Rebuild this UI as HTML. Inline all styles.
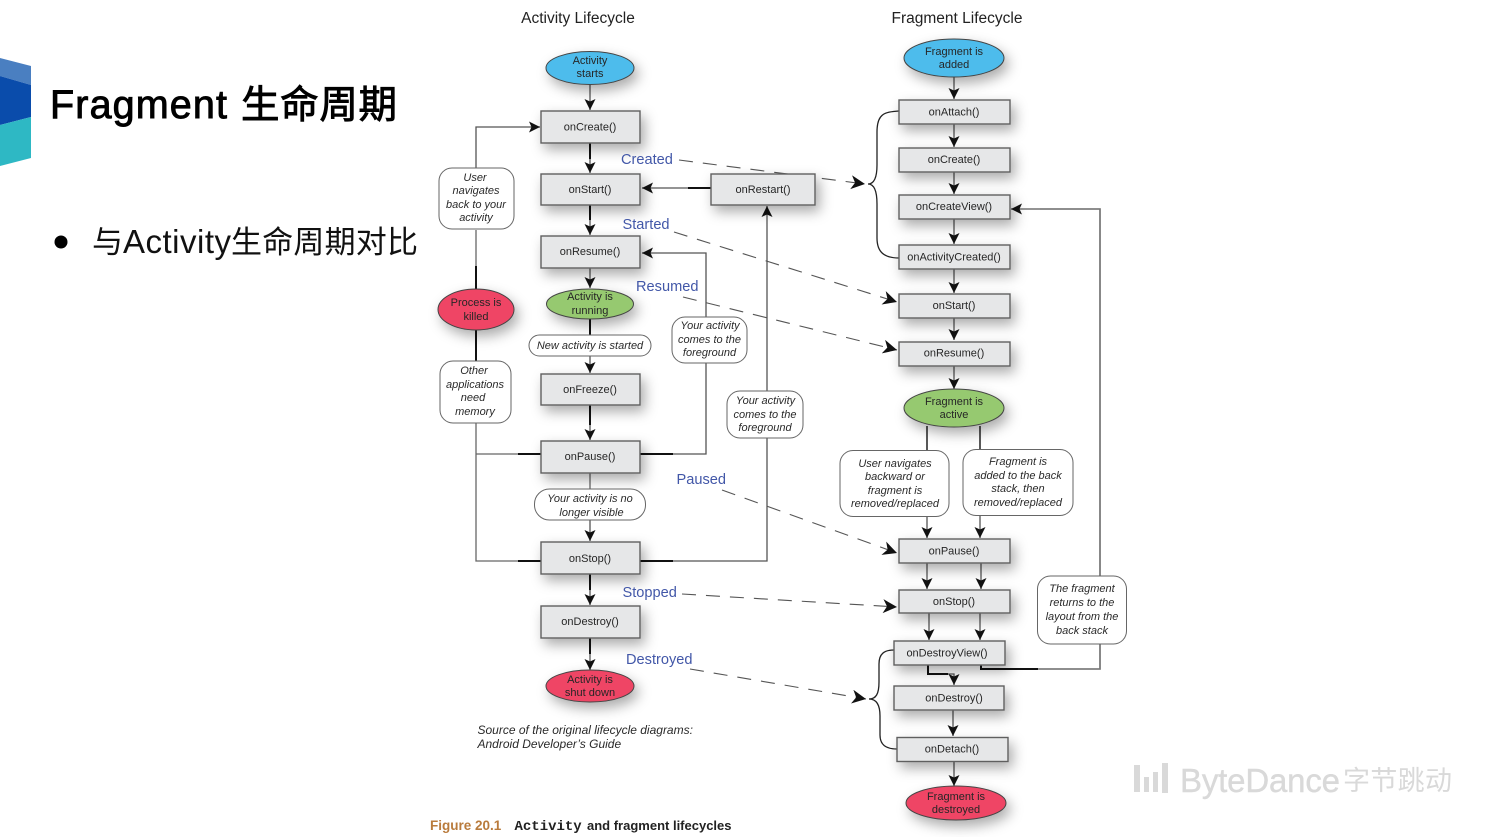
<!DOCTYPE html>
<html><head><meta charset="utf-8">
<style>
html,body{margin:0;padding:0;background:#fff;width:1495px;height:837px;overflow:hidden}
svg{display:block;position:absolute;left:0;top:0}
text{font-family:"Liberation Sans","Noto Sans CJK SC",sans-serif}
.t{font-size:11px;fill:#262626;text-anchor:middle}
.i{font-size:11px;font-style:italic;fill:#2a2a2a;text-anchor:middle}
.b{font-size:14.6px;fill:#4257a8}
.h{font-size:15.5px;fill:#222;text-anchor:middle}
.box{fill:#e6e7e8;stroke:#5f5f5f;stroke-width:1.4;filter:url(#s)}
.bub{fill:#fff;stroke:#666;stroke-width:1}
.l{fill:none;stroke:#666;stroke-width:1.3}
.k{fill:none;stroke:#111;stroke-width:2}
.n{fill:none;stroke:#222;stroke-width:1.3}
.a{fill:none;stroke:#555;stroke-width:1.3;marker-end:url(#m)}
.d{fill:none;stroke:#555;stroke-width:1.1;stroke-dasharray:14 10;marker-end:url(#m2)}
.e{stroke:#444;stroke-width:1;filter:url(#s)}
</style></head><body>
<svg width="1495" height="837" viewBox="0 0 1495 837" xmlns="http://www.w3.org/2000/svg">
<defs>
<filter id="s" x="-40%" y="-70%" width="190%" height="270%"><feDropShadow dx="4" dy="6" stdDeviation="6.500" flood-color="#000" flood-opacity=".33"/></filter>
<marker id="m" markerUnits="userSpaceOnUse" markerWidth="14" markerHeight="14" refX="11" refY="5.500" orient="auto"><path d="M0 0L11 5.500L0 11L2.500 5.500Z" fill="#111"/></marker>
<marker id="m2" markerUnits="userSpaceOnUse" markerWidth="18" markerHeight="18" refX="14" refY="7" orient="auto"><path d="M0 0L14 7L0 14L4 7Z" fill="#111"/></marker>
</defs>

<polygon points="0,58 31,66 31,85 0,76" fill="#4a7fc1"/>
<polygon points="0,76 31,85 31,117 0,125" fill="#0a4cab"/>
<polygon points="0,125 31,117 31,158 0,166" fill="#2eb8c4"/>

<text x="50" y="118" font-size="39.500" fill="#000" stroke="#000" stroke-width=".9" textLength="177" lengthAdjust="spacing">Fragment</text>
<text x="241" y="118" font-size="38.500" fill="#000" stroke="#000" stroke-width=".9" textLength="156">生命周期</text>
<circle cx="61" cy="242" r="6.500" fill="#000"/>
<text x="92" y="253" font-size="31" fill="#111">与</text>
<text x="123" y="253" font-size="33" fill="#111" textLength="108">Activity</text>
<text x="231" y="253" font-size="31" fill="#111" textLength="187">生命周期对比</text>

<!-- watermark -->
<g fill="#d9d9d9">
<rect x="1134" y="765" width="6" height="27"/><rect x="1144" y="777" width="5" height="15"/><rect x="1153" y="772" width="5" height="20"/><rect x="1162" y="763" width="6" height="30"/>
<text x="1180" y="792" font-size="33" textLength="160" stroke="#d9d9d9" stroke-width=".4">ByteDance</text>
<text x="1343" y="790" font-size="27" textLength="109">字节跳动</text>
</g>

<text class="h" x="578" y="23">Activity Lifecycle</text>
<text class="h" x="957" y="23">Fragment Lifecycle</text>

<!-- dashed -->
<path class="d" d="M679 160L865 184"/>
<path class="d" d="M674 232L897 302"/>
<path class="d" d="M683 297L897 350"/>
<path class="d" d="M722 490L897 553"/>
<path class="d" d="M682 594L897 607"/>
<path class="d" d="M690 669L866 699"/>

<!-- left connectors -->
<path class="a" d="M590 84V110"/>
<path class="a" d="M590 143V173"/><path class="k" d="M590 143V159"/>
<path class="a" d="M590 205V235"/><path class="k" d="M590 205V220"/>
<path class="a" d="M590 268V288"/>
<path class="k" d="M590 318V335"/>
<path class="a" d="M590 356V373"/>
<path class="a" d="M590 405V440"/><path class="k" d="M590 405V425"/>
<path class="l" d="M590 473V489"/>
<path class="a" d="M590 520V541"/>
<path class="a" d="M590 574V605"/><path class="k" d="M590 574V590"/>
<path class="a" d="M590 638V670"/><path class="k" d="M590 638V654"/>
<path class="a" d="M476 168V127H540"/>
<path class="l" d="M476 230V290"/><path class="k" d="M476 266V290"/>
<path class="k" d="M476 330V361"/>
<path class="l" d="M476 423V561H541M476 454H541"/>
<path class="k" d="M518 454H541M518 561H541"/>
<path class="a" d="M640 454H706V253H642"/><path class="k" d="M640 454H673"/>
<path class="a" d="M640 561H767V206"/><path class="k" d="M640 561H673"/>
<path class="a" d="M711 188H642"/><path class="k" d="M688 188H711"/>

<!-- right connectors -->
<path class="a" d="M954 76V99"/>
<path class="a" d="M954 124V147"/>
<path class="a" d="M954 172V194"/>
<path class="a" d="M954 219V244"/>
<path class="a" d="M954 269V293"/>
<path class="a" d="M954 318V340"/>
<path class="a" d="M954 366V389"/>
<path class="k" d="M927 426V451M980 426V450" style="stroke-width:1.4"/>
<path class="a" d="M927 517V538"/>
<path class="a" d="M980 516V538"/>
<path class="a" d="M927 563V589"/>
<path class="a" d="M981 563V589"/>
<path class="a" d="M929 613V640"/>
<path class="a" d="M980 613V640"/>
<path class="a" d="M928 665V674H954V685"/><path class="k" d="M928 665V674H948"/>
<path class="a" d="M953 710V736"/>
<path class="a" d="M954 761V786"/>
<path class="a" d="M981 665V669H1100V209H1011"/><path class="k" d="M981 665V669H1038"/>
<path class="l" style="stroke:#777;stroke-width:1.6" d="M1039 669H1100V209H1040"/>
<path class="n" d="M899 111C884 112 877 114 877 132V165C877 178 874 184 868 184C874 184 877 190 877 204V238C877 252 884 258 899 258"/>
<path class="n" d="M894 650C884 650 879 654 879 664V682C879 694 876 699 869 699C876 699 880 704 880 716V735C880 745 886 749 897 749"/>

<!-- left boxes -->
<rect class="box" x="541" y="111" width="99" height="32"/><text class="t" x="590" y="130.500">onCreate()</text>
<rect class="box" x="541" y="174" width="99" height="31"/><text class="t" x="590" y="193">onStart()</text>
<rect class="box" x="541" y="236" width="99" height="32"/><text class="t" x="590" y="255">onResume()</text>
<rect class="box" x="541" y="374" width="99" height="31"/><text class="t" x="590" y="393">onFreeze()</text>
<rect class="box" x="541" y="441" width="99" height="32"/><text class="t" x="590" y="460">onPause()</text>
<rect class="box" x="541" y="542" width="99" height="32"/><text class="t" x="590" y="562">onStop()</text>
<rect class="box" x="541" y="606" width="99" height="32"/><text class="t" x="590" y="625">onDestroy()</text>
<rect class="box" x="711" y="174" width="104" height="31"/><text class="t" x="763" y="193">onRestart()</text>

<ellipse class="e" cx="590" cy="68" rx="44" ry="16.500" fill="#4dbcec"/><text class="t" x="590" y="64">Activity</text><text class="t" x="590" y="77">starts</text>
<ellipse class="e" cx="590" cy="304" rx="43.500" ry="15" fill="#96c96f"/><text class="t" x="590" y="300">Activity is</text><text class="t" x="590" y="314">running</text>
<ellipse class="e" cx="590" cy="686" rx="44" ry="16" fill="#ef4565"/><text class="t" x="590" y="683">Activity is</text><text class="t" x="590" y="696">shut down</text>
<ellipse class="e" cx="476" cy="309.500" rx="38" ry="20.500" fill="#ef4565"/><text class="t" x="476" y="306">Process is</text><text class="t" x="476" y="320">killed</text>

<!-- left bubbles -->
<rect class="bub" x="439" y="168" width="75" height="61" rx="13"/>
<text class="i" x="475" y="181">User</text><text class="i" x="476" y="194">navigates</text><text class="i" x="476" y="208">back to your</text><text class="i" x="476" y="221">activity</text>
<rect class="bub" x="440" y="361" width="71" height="62" rx="13"/>
<text class="i" x="474" y="374">Other</text><text class="i" x="475" y="388">applications</text><text class="i" x="473" y="401">need</text><text class="i" x="475" y="415">memory</text>
<rect class="bub" x="529" y="335" width="122" height="21" rx="10.500"/><text class="i" x="590" y="349">New activity is started</text>
<rect class="bub" x="534.500" y="489" width="111" height="31" rx="15"/>
<text class="i" x="590" y="502">Your activity is no</text><text class="i" x="591.500" y="516">longer visible</text>
<rect class="bub" x="672" y="317" width="75" height="46" rx="13"/>
<text class="i" x="710" y="329">Your activity</text><text class="i" x="709.500" y="343">comes to the</text><text class="i" x="709.500" y="356">foreground</text>
<rect class="bub" x="727" y="391" width="76" height="47" rx="13"/>
<text class="i" x="765.500" y="404">Your activity</text><text class="i" x="765" y="418">comes to the</text><text class="i" x="765" y="431">foreground</text>

<!-- right boxes -->
<rect class="box" x="899" y="100" width="111" height="24"/><text class="t" x="954" y="115.500">onAttach()</text>
<rect class="box" x="899" y="148" width="111" height="24"/><text class="t" x="954" y="163">onCreate()</text>
<rect class="box" x="899" y="195" width="111" height="24"/><text class="t" x="954" y="210">onCreateView()</text>
<rect class="box" x="899" y="245" width="111" height="24"/><text class="t" x="954" y="260.500">onActivityCreated()</text>
<rect class="box" x="899" y="294" width="111" height="24"/><text class="t" x="954" y="309">onStart()</text>
<rect class="box" x="899" y="342" width="111" height="24"/><text class="t" x="954" y="356.500">onResume()</text>
<rect class="box" x="899" y="539" width="111" height="24"/><text class="t" x="954" y="554.500">onPause()</text>
<rect class="box" x="899" y="590" width="111" height="23"/><text class="t" x="954" y="605">onStop()</text>
<rect class="box" x="894" y="641" width="111" height="24"/><text class="t" x="947" y="656.500">onDestroyView()</text>
<rect class="box" x="894" y="686" width="110" height="24"/><text class="t" x="954" y="701.500">onDestroy()</text>
<rect class="box" x="897" y="737.500" width="111" height="24"/><text class="t" x="952" y="752.500">onDetach()</text>

<ellipse class="e" cx="954" cy="58" rx="50" ry="19" fill="#4dbcec"/><text class="t" x="954" y="55">Fragment is</text><text class="t" x="954" y="68">added</text>
<ellipse class="e" cx="954" cy="408" rx="50" ry="19" fill="#96c96f"/><text class="t" x="954" y="405">Fragment is</text><text class="t" x="954" y="418">active</text>
<ellipse class="e" cx="956" cy="803" rx="50" ry="17" fill="#ef4565"/><text class="t" x="956" y="800">Fragment is</text><text class="t" x="956" y="813">destroyed</text>

<!-- right bubbles -->
<rect class="bub" x="840" y="450.500" width="109" height="66" rx="13"/>
<text class="i" x="895" y="467">User navigates</text><text class="i" x="895" y="480">backward or</text><text class="i" x="895" y="494">fragment is</text><text class="i" x="895" y="507">removed/replaced</text>
<rect class="bub" x="963" y="449.500" width="110" height="66" rx="13"/>
<text class="i" x="1018" y="465">Fragment is</text><text class="i" x="1018" y="479">added to the back</text><text class="i" x="1018" y="492">stack, then</text><text class="i" x="1018" y="506">removed/replaced</text>
<rect class="bub" x="1037.500" y="576" width="89" height="68" rx="13"/>
<text class="i" x="1082" y="592">The fragment</text><text class="i" x="1082" y="606">returns to the</text><text class="i" x="1082" y="620">layout from the</text><text class="i" x="1082" y="634">back stack</text>

<!-- state labels -->
<text class="b" x="621" y="164">Created</text>
<text class="b" x="622.500" y="229">Started</text>
<text class="b" x="636" y="291">Resumed</text>
<text class="b" x="676.500" y="484">Paused</text>
<text class="b" x="622.500" y="597">Stopped</text>
<text class="b" x="626" y="664">Destroyed</text>

<text class="i" style="text-anchor:start;font-size:12px" x="477.500" y="734">Source of the original lifecycle diagrams:</text>
<text class="i" style="text-anchor:start;font-size:12px" x="477.500" y="748">Android Developer’s Guide</text>

<text x="430" y="830" font-size="13.500" font-weight="700" fill="#b97b3c">Figure 20.1</text>
<text x="514.500" y="830" font-size="14" font-weight="700" fill="#222" style="font-family:'Liberation Mono',monospace">Activity</text>
<text x="587" y="830" font-size="13" font-weight="700" fill="#222">and fragment lifecycles</text>
</svg>
</body></html>
